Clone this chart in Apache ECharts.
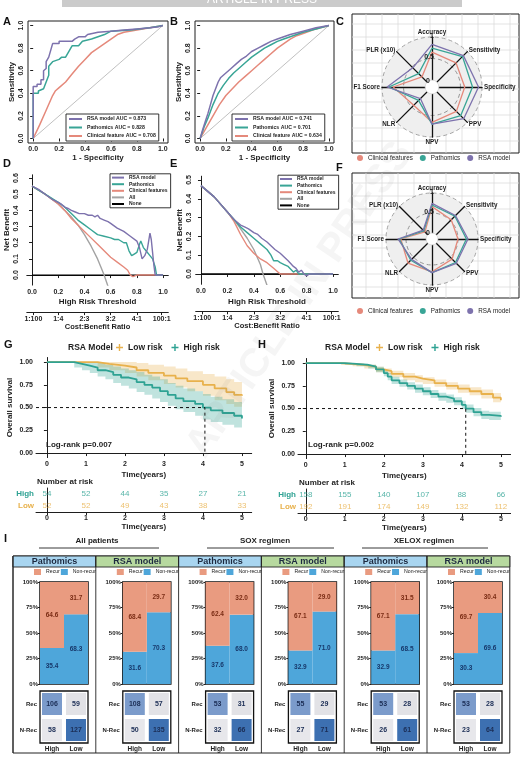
<!DOCTYPE html>
<html><head><meta charset="utf-8">
<script src="https://cdn.jsdelivr.net/npm/echarts@6/dist/echarts.min.js"></script>
<style>html,body{margin:0;padding:0;background:#fff}#c{width:523px;height:757px}</style>
</head><body><div id="c"></div><script>
// ---------------- DATA ----------------
const rocA_rsa=[[0,0],[0,0.46],[0.03,0.46],[0.03,0.48],[0.06,0.48],[0.06,0.52],[0.08,0.52],[0.08,0.6],[0.1,0.62],[0.1,0.68],[0.12,0.72],[0.14,0.8],[0.15,0.84],[0.2,0.84],[0.2,0.86],[0.3,0.86],[0.32,0.88],[0.35,0.9],[0.4,0.9],[0.42,0.92],[0.5,0.94],[0.6,0.95],[0.7,0.96],[0.8,0.97],[0.9,0.98],[0.97,0.99],[1,1]];
const rocA_path=[[0,0],[0,0.4],[0.04,0.4],[0.04,0.42],[0.08,0.44],[0.1,0.5],[0.12,0.56],[0.12,0.64],[0.15,0.68],[0.2,0.7],[0.22,0.72],[0.25,0.72],[0.28,0.78],[0.3,0.82],[0.35,0.82],[0.38,0.86],[0.45,0.88],[0.5,0.9],[0.55,0.92],[0.6,0.95],[0.75,0.96],[0.9,0.98],[1,1]];
const rocA_clin=[[0,0],[0.05,0.12],[0.1,0.25],[0.15,0.38],[0.17,0.42],[0.2,0.45],[0.25,0.5],[0.3,0.57],[0.35,0.64],[0.4,0.7],[0.45,0.76],[0.5,0.8],[0.55,0.84],[0.6,0.88],[0.65,0.92],[0.7,0.94],[0.8,0.96],[0.9,0.98],[1,1]];
const rocB_rsa=[[0,0],[0.02,0.08],[0.04,0.15],[0.06,0.22],[0.08,0.3],[0.1,0.38],[0.12,0.44],[0.14,0.5],[0.16,0.54],[0.2,0.58],[0.24,0.62],[0.28,0.66],[0.32,0.7],[0.36,0.73],[0.4,0.77],[0.45,0.8],[0.5,0.83],[0.55,0.86],[0.6,0.88],[0.65,0.9],[0.7,0.92],[0.8,0.95],[0.9,0.98],[1,1]];
const rocB_path=[[0,0],[0.03,0.1],[0.06,0.18],[0.1,0.3],[0.14,0.4],[0.18,0.47],[0.22,0.53],[0.26,0.58],[0.3,0.62],[0.35,0.67],[0.4,0.72],[0.45,0.76],[0.5,0.8],[0.55,0.83],[0.6,0.86],[0.65,0.88],[0.7,0.9],[0.8,0.94],[0.9,0.97],[1,1]];
const rocB_clin=[[0,0],[0.05,0.1],[0.1,0.2],[0.15,0.3],[0.2,0.38],[0.25,0.44],[0.3,0.5],[0.35,0.55],[0.4,0.6],[0.45,0.65],[0.5,0.7],[0.55,0.75],[0.6,0.8],[0.65,0.84],[0.7,0.88],[0.75,0.91],[0.8,0.93],[0.9,0.97],[1,1]];
const rocNamesA=['RSA model AUC = 0.873','Pathomics AUC = 0.828','Clinical feature AUC = 0.708'];
const rocNamesB=['RSA model AUC = 0.741','Pathomics AUC = 0.701','Clinical feature AUC = 0.634'];
const rocTicks=[0,0.2,0.4,0.6,0.8,1];

const radarMetrics=['Accuracy','PLR (x10)','F1 Score','NLR','NPV','PPV','Specificity','Sensitivity'];
const radarC_clin=[0.65,0.17,0.74,0.44,0.66,0.64,0.6,0.63];
const radarC_path=[0.74,0.28,0.84,0.28,0.7,0.78,0.78,0.84];
const radarC_rsa=[0.83,0.47,0.88,0.22,0.7,0.88,0.92,0.87];
const radarF_clin=[0.66,0.1,0.63,0.7,0.67,0.56,0.5,0.53];
const radarF_path=[0.7,0.14,0.67,0.6,0.69,0.68,0.71,0.66];
const radarF_rsa=[0.74,0.16,0.7,0.57,0.69,0.71,0.75,0.68];
const modelNames=['Clinical features','Pathomics','RSA model'];

const dcaD_rsa=[[0,0.55],[0.05,0.53],[0.1,0.5],[0.15,0.47],[0.2,0.45],[0.22,0.44],[0.25,0.42],[0.28,0.41],[0.3,0.4],[0.33,0.39],[0.36,0.38],[0.4,0.38],[0.43,0.37],[0.46,0.37],[0.48,0.36],[0.5,0.37],[0.52,0.35],[0.55,0.34],[0.58,0.33],[0.6,0.32],[0.65,0.29],[0.7,0.27],[0.75,0.24],[0.8,0.21],[0.82,0.17],[0.84,0.1],[0.86,0.12],[0.88,0.16],[0.9,0.26],[0.91,0.22],[0.92,0.14],[0.93,0.06],[0.94,0],[1,0]];
const dcaD_path=[[0,0.55],[0.1,0.5],[0.2,0.45],[0.25,0.42],[0.3,0.38],[0.35,0.34],[0.4,0.31],[0.45,0.28],[0.5,0.25],[0.55,0.24],[0.6,0.23],[0.63,0.22],[0.66,0.22],[0.7,0.2],[0.72,0.2],[0.74,0.15],[0.76,0.12],[0.78,0.13],[0.8,0.14],[0.82,0.19],[0.83,0.21],[0.85,0.17],[0.87,0.15],[0.9,0.12],[0.92,0.1],[0.94,0.05],[0.95,0],[1,0]];
const dcaD_clin=[[0,0.55],[0.1,0.5],[0.2,0.44],[0.25,0.4],[0.3,0.35],[0.35,0.31],[0.4,0.27],[0.45,0.23],[0.5,0.19],[0.55,0.15],[0.6,0.11],[0.65,0.08],[0.7,0.05],[0.73,0.03],[0.75,0],[0.77,-0.01],[0.8,0],[1,0]];
const dcaD_all=[[0,0.55],[0.1,0.5],[0.2,0.44],[0.25,0.4],[0.3,0.36],[0.35,0.31],[0.4,0.25],[0.45,0.18],[0.5,0.1],[0.53,0.04],[0.55,0],[0.58,-0.07]];
const dcaE_rsa=[[0,0.47],[0.1,0.41],[0.2,0.33],[0.25,0.29],[0.3,0.26],[0.33,0.25],[0.36,0.24],[0.4,0.22],[0.43,0.21],[0.46,0.19],[0.5,0.17],[0.53,0.15],[0.56,0.13],[0.6,0.11],[0.63,0.09],[0.66,0.07],[0.7,0.04],[0.72,0.03],[0.74,0.01],[0.76,0.02],[0.78,0],[0.8,-0.01],[0.82,0],[1,0]];
const dcaE_path=[[0,0.47],[0.1,0.41],[0.2,0.33],[0.25,0.29],[0.3,0.25],[0.35,0.22],[0.4,0.19],[0.45,0.16],[0.5,0.13],[0.53,0.1],[0.55,0.07],[0.58,0.07],[0.6,0.06],[0.63,0.05],[0.66,0.04],[0.7,0.01],[0.72,0.02],[0.74,0],[1,0]];
const dcaE_clin=[[0,0.47],[0.1,0.41],[0.2,0.33],[0.25,0.28],[0.3,0.21],[0.35,0.15],[0.4,0.11],[0.45,0.08],[0.5,0.06],[0.55,0.03],[0.6,0],[1,0]];
const dcaE_all=[[0,0.47],[0.1,0.41],[0.2,0.33],[0.25,0.29],[0.3,0.24],[0.35,0.19],[0.4,0.13],[0.45,0.05],[0.47,0],[0.5,-0.06]];
const dcaNone=[[0,0],[1,0]];
const dcaNames=['RSA model','Pathomics','Clinical features','All','None'];
const thrTicks=[0,0.2,0.4,0.6,0.8,1];
const costTicks=[0.01,0.2,0.4,0.6,0.8,0.99];
const costLabels=['1:100','1:4','2:3','3:2','4:1','100:1'];

const kmG_lowT=[0,1.3,1.6,2.0,2.3,2.6,3.0,3.3,3.6,4.0,4.3,4.6,4.8,5.0];
const kmG_lowS=[1,0.98,0.96,0.94,0.91,0.88,0.85,0.82,0.79,0.75,0.71,0.67,0.64,0.63];
const kmG_lowU=[1,1,1,1,0.99,0.97,0.95,0.93,0.9,0.87,0.84,0.81,0.78,0.77];
const kmG_lowL=[1,0.94,0.91,0.88,0.84,0.8,0.76,0.72,0.68,0.63,0.58,0.54,0.51,0.5];
const kmG_highT=[0,0.7,0.9,1.1,1.3,1.5,1.7,1.9,2.1,2.3,2.5,2.7,2.9,3.1,3.3,3.5,3.8,4.0,4.2,4.5,4.8,5.0];
const kmG_highS=[1,0.98,0.96,0.94,0.91,0.89,0.86,0.83,0.81,0.78,0.75,0.72,0.68,0.64,0.6,0.57,0.54,0.5,0.47,0.44,0.41,0.38];
const kmG_highU=[1,1,1,1,0.99,0.97,0.95,0.93,0.91,0.89,0.86,0.84,0.81,0.77,0.74,0.71,0.68,0.65,0.62,0.59,0.56,0.53];
const kmG_highL=[1,0.94,0.91,0.88,0.84,0.81,0.77,0.74,0.71,0.67,0.64,0.6,0.56,0.52,0.48,0.45,0.41,0.37,0.34,0.31,0.28,0.26];
const kmH_lowT=[0,0.9,1.2,1.5,1.8,2.0,2.2,2.5,2.8,3.0,3.3,3.6,3.9,4.2,4.5,4.8,5.0];
const kmH_lowS=[1,0.99,0.98,0.96,0.93,0.91,0.88,0.85,0.83,0.81,0.78,0.75,0.72,0.69,0.66,0.62,0.59];
const kmH_lowU=[1,1,0.995,0.98,0.96,0.94,0.915,0.89,0.865,0.845,0.82,0.79,0.765,0.735,0.71,0.67,0.64];
const kmH_lowL=[1,0.98,0.965,0.94,0.9,0.88,0.845,0.81,0.79,0.77,0.74,0.71,0.675,0.645,0.61,0.57,0.54];
const kmH_highT=[0,1.0,1.3,1.6,1.8,2.0,2.1,2.2,2.4,2.6,2.8,3.0,3.2,3.4,3.6,3.8,4.0,4.1,4.3,4.5,4.7,5.0];
const kmH_highS=[1,0.99,0.98,0.96,0.93,0.89,0.85,0.81,0.78,0.75,0.72,0.69,0.66,0.63,0.61,0.58,0.54,0.5,0.46,0.43,0.42,0.41];
const kmH_highU=[1,1,0.995,0.98,0.96,0.925,0.89,0.85,0.82,0.79,0.765,0.735,0.705,0.675,0.655,0.625,0.585,0.545,0.505,0.475,0.465,0.455];
const kmH_highL=[1,0.98,0.965,0.94,0.9,0.855,0.81,0.77,0.74,0.71,0.675,0.645,0.615,0.585,0.565,0.535,0.495,0.455,0.415,0.385,0.375,0.365];
const medianG=4.05, medianH=4.1;
const riskTimes=[0,1,2,3,4,5];
const riskG_high=[54,52,44,35,27,21];
const riskG_low=[52,52,49,43,38,33];
const riskH_high=[158,155,140,107,88,66];
const riskH_low=[192,191,174,149,132,112];
const survTicks=[0,0.25,0.5,0.75,1];

const iModels=['Pathomics','RSA model','Pathomics','RSA model','Pathomics','RSA model'];
const iGroups=['All patients','SOX regimen','XELOX regimen'];
const recurHigh=[64.6,68.4,62.4,67.1,67.1,69.7];
const nonRecurHigh=[35.4,31.6,37.6,32.9,32.9,30.3];
const recurLow=[31.7,29.7,32.0,29.0,31.5,30.4];
const nonRecurLow=[68.3,70.3,68.0,71.0,68.5,69.6];
const cmRecHigh=[106,108,53,55,53,53];
const cmRecLow=[59,57,31,29,28,28];
const cmNRecHigh=[58,50,32,27,26,23];
const cmNRecLow=[127,135,66,71,61,64];

// ---------------- STYLE ----------------
const FONT='"Liberation Sans", Arial, sans-serif';
const C_RSA='#7d72ad', C_PATH='#39a596', C_CLIN='#e5897b', C_ALL='#a3a3a3', C_NONE='#000000';
const C_LOW='#e8b14c', C_HIGH='#2ea293';
const C_REC='#e99b80', C_NON='#4ea6da';
const INK='#1e1e1e';
const lab=(s,extra)=>Object.assign({fontSize:s,fontWeight:'bold',color:INK,fontFamily:FONT},extra||{});

const grids=[], xAxes=[], yAxes=[], series=[], legends=[], graphics=[];
function addGrid(g){g.outerBoundsMode='none';g.containLabel=false;grids.push(g);return grids.length-1;}

function rAxis(gi,min,max,ticks,fmt,name,gap,isY,extra){
  return Object.assign({type:'value',gridIndex:gi,min:min,max:max,
    axisLine:{show:false,lineStyle:{color:INK,width:1}},splitLine:{show:false},
    axisTick:{show:true,customValues:ticks,length:3,lineStyle:{color:INK}},
    axisLabel:{customValues:ticks,formatter:fmt,margin:3,rotate:isY?90:0,fontSize:7,fontWeight:'bold',color:INK},
    name:name,nameLocation:'middle',nameGap:gap,nameTextStyle:lab(8)},extra||{});
}

// ---------- A & B (ROC) ----------
[[28,140,rocA_rsa,rocA_path,rocA_clin,rocNamesA,66],[195,139,rocB_rsa,rocB_path,rocB_clin,rocNamesB,232]].forEach((r,i)=>{
  const gi=addGrid({left:r[0],top:21,width:r[1],height:122,show:true,borderColor:INK,borderWidth:1});
  xAxes.push(rAxis(gi,-0.04,1.04,rocTicks,v=>v.toFixed(1),'1 - Specificity',11,false));
  yAxes.push(rAxis(gi,-0.04,1.04,rocTicks,v=>v.toFixed(1),'Sensitivity',12,true));
  const xi=xAxes.length-1, yi=yAxes.length-1;
  series.push({type:'line',xAxisIndex:xi,yAxisIndex:yi,data:[[0,0],[1,1]],symbol:'none',silent:true,lineStyle:{color:'#b0b0b0',width:0.8},z:1});
  [[r[2],C_RSA],[r[3],C_PATH],[r[4],C_CLIN]].forEach((s,k)=>{
    series.push({type:'line',name:r[5][k],xAxisIndex:xi,yAxisIndex:yi,data:s[0],symbol:'none',color:s[1],lineStyle:{color:s[1],width:1.5},itemStyle:{color:s[1]},z:3-k+2});
  });
  legends.push({left:r[6],top:114,orient:'vertical',data:r[5],icon:'rect',itemWidth:13,itemHeight:2,itemGap:2.5,
    textStyle:lab(5.2,{lineHeight:6}),borderColor:INK,borderWidth:0.9,padding:[2,3,2,3],backgroundColor:'#fff',selectedMode:false});
});

// ---------- D & E (DCA) ----------
[[26.8,141.5,174.8,110.3,-0.062,0.62,[0,0.1,0.2,0.3,0.4,0.5,0.6],[dcaD_rsa,dcaD_path,dcaD_clin,dcaD_all],4,110],
 [195.7,142.6,176.2,108.1,-0.055,0.52,[0,0.1,0.2,0.3,0.4,0.5],[dcaE_rsa,dcaE_path,dcaE_clin,dcaE_all],0,278]].forEach(r=>{
  const gi=addGrid({left:r[0],top:r[2],width:r[1],height:r[3]});
  xAxes.push(rAxis(gi,-0.04,1.04,thrTicks,v=>v.toFixed(1),'High Risk Threshold',13,false,{axisLine:{show:true,lineStyle:{color:INK}}}));
  const xi=xAxes.length-1;
  xAxes.push(rAxis(gi,-0.04,1.04,costTicks,v=>{let b=0;costTicks.forEach((c,j)=>{if(Math.abs(c-v)<Math.abs(costTicks[b]-v))b=j;});return costLabels[b];},'Cost:Benefit Ratio',8,false,{position:'bottom',offset:27,axisLine:{show:true,lineStyle:{color:INK}},nameTextStyle:lab(7.5)}));
  yAxes.push(rAxis(gi,r[4],r[5],r[6],v=>v.toFixed(1),'Net Benefit',12,true,{offset:r[8],axisLine:{show:true,lineStyle:{color:INK}}}));
  const yi=yAxes.length-1;
  const cols=[C_RSA,C_PATH,C_CLIN,C_ALL];
  series.push({type:'line',name:'None',xAxisIndex:xi,yAxisIndex:yi,data:dcaNone,symbol:'none',color:C_NONE,lineStyle:{color:C_NONE,width:1.2},itemStyle:{color:C_NONE},z:2});
  [3,2,1,0].forEach(k=>{
    series.push({type:'line',name:dcaNames[k],xAxisIndex:xi,yAxisIndex:yi,data:r[7][k],symbol:'none',color:cols[k],lineStyle:{color:cols[k],width:1.4},itemStyle:{color:cols[k]},z:3+(3-k)});
  });
  legends.push({left:r[9],top:r[2]-1,orient:'vertical',data:dcaNames,icon:'rect',itemWidth:12,itemHeight:2,itemGap:1,
    textStyle:lab(5,{lineHeight:5.6}),borderColor:INK,borderWidth:0.9,padding:[1,3,1,2],backgroundColor:'#fff',selectedMode:false});
});

// ---------- C & F (radar) ----------
const radars=[
  {center:[432,87],radius:50,min:-0.16},
  {center:[432,239],radius:46,min:-0.15}
];
radars.forEach((rd,ri)=>{
  const cx=rd.center[0], cy=rd.center[1], R=rd.radius;
  const bx=352, by=ri?173:14, bw=167, bh=ri?125:139;
  graphics.push({type:'rect',z:-20,shape:{x:bx,y:by,width:bw,height:bh},style:{fill:'#fff',stroke:INK,lineWidth:1}});
  for(let gx=bx+14; gx<bx+bw; gx+=16) graphics.push({type:'line',z:-19,shape:{x1:gx,y1:by,x2:gx,y2:by+bh},style:{stroke:'#dcdcdc',lineWidth:0.8}});
  for(let gy=by+10; gy<by+bh; gy+=13) graphics.push({type:'line',z:-19,shape:{x1:bx,y1:gy,x2:bx+bw,y2:gy},style:{stroke:'#dcdcdc',lineWidth:0.8}});
  const rr=v=>R*(v-rd.min)/(1-rd.min);
  graphics.push({type:'circle',z:-18,shape:{cx:cx,cy:cy,r:rr(1)},style:{fill:'#efefef',stroke:'#9a9a9a',lineWidth:0.9,lineDash:[4,3]}});
  graphics.push({type:'circle',z:-17,shape:{cx:cx,cy:cy,r:rr(0.5)},style:{fill:'none',stroke:'#8a8a8a',lineWidth:0.9,lineDash:[4,3]}});
  graphics.push({type:'text',z:60,x:cx,y:cy-rr(1)-1,style:{text:'1',font:'bold 7px '+FONT,fill:INK,align:'center',verticalAlign:'middle'}});
  graphics.push({type:'text',z:60,x:cx-3,y:cy-rr(0.5)-1,style:{text:'0.5',font:'bold 7px '+FONT,fill:INK,align:'center',verticalAlign:'middle'}});
  graphics.push({type:'circle',z:55,shape:{cx:cx,cy:cy,r:rr(0)},style:{fill:'#fff',stroke:'#ccc',lineWidth:0.6}});
  graphics.push({type:'text',z:60,x:cx-4,y:cy-6,style:{text:'0',font:'bold 7px '+FONT,fill:INK,align:'center',verticalAlign:'middle'}});
});
const radarOpts=radars.map(rd=>({center:rd.center,radius:rd.radius,startAngle:90,shape:'circle',splitNumber:1,
  indicator:radarMetrics.map(n=>({name:n,min:rd.min,max:1})),
  axisName:{color:INK,fontSize:6.3,fontWeight:'bold',fontFamily:FONT},nameGap:2,
  axisLine:{lineStyle:{color:'#111',width:1.3}},splitLine:{show:false},splitArea:{show:false},axisTick:{show:false},axisLabel:{show:false}}));
[[radarC_clin,radarC_path,radarC_rsa],[radarF_clin,radarF_path,radarF_rsa]].forEach((set,ri)=>{
  const cols=[C_CLIN,C_PATH,C_RSA];
  series.push({type:'radar',radarIndex:ri,symbol:'none',z:4,
    data:set.map((v,k)=>({name:modelNames[k],value:v,lineStyle:{color:cols[k],width:1.3},itemStyle:{color:cols[k]}}))});
  legends.push({left:357,top:ri?308:155,orient:'horizontal',data:modelNames,icon:'circle',itemWidth:6,itemHeight:6,itemGap:7,
    textStyle:lab(6.3,{fontWeight:'normal',color:'#222'}),padding:0,selectedMode:false});
});

// ---------- G & H (KM) ----------
function bandSeries(xi,yi,T,U,L,color){
  return {type:'custom',xAxisIndex:xi,yAxisIndex:yi,silent:true,z:1,data:[[T[0],U[0]]],encode:{x:0,y:1},
    renderItem:function(params,api){
      const pts=[];
      for(let i=0;i<T.length;i++){ if(i>0) pts.push(api.coord([T[i],U[i-1]])); pts.push(api.coord([T[i],U[i]])); }
      for(let i=T.length-1;i>=0;i--){ pts.push(api.coord([T[i],L[i]])); if(i>0) pts.push(api.coord([T[i],L[i-1]])); }
      return {type:'polygon',shape:{points:pts},style:{fill:color}};
    }};
}
const plusIcon='path://M4,0L6,0L6,4L10,4L10,6L6,6L6,10L4,10L4,6L0,6L0,4L4,4Z';
[[36,215.7,357.5,-0.28,488,kmG_lowT,kmG_lowS,kmG_lowU,kmG_lowL,kmG_highT,kmG_highS,kmG_highU,kmG_highL,medianG,riskG_high,riskG_low,'Log-rank p=0.007',68,116],
 [298,212.6,358.5,-0.2,489,kmH_lowT,kmH_lowS,kmH_lowU,kmH_lowL,kmH_highT,kmH_highS,kmH_highU,kmH_highL,medianH,riskH_high,riskH_low,'Log-rank p=0.002',325,376]].forEach(r=>{
  const gi=addGrid({left:r[0],top:r[2],width:r[1],height:100.1});
  const axL={show:true,lineStyle:{color:INK,width:1}};
  xAxes.push(rAxis(gi,r[3],5.25,riskTimes,v=>String(v),'Time(years)',13,false,{axisLine:axL}));
  yAxes.push(rAxis(gi,-0.05,1.05,survTicks,v=>v.toFixed(2),'Overall survival',22,false,{axisLine:axL}));
  const xi=xAxes.length-1, yi=yAxes.length-1;
  series.push(bandSeries(xi,yi,r[5],r[7],r[8],'rgba(232,177,76,0.3)'));
  series.push(bandSeries(xi,yi,r[9],r[11],r[12],'rgba(46,162,147,0.3)'));
  series.push({type:'line',name:'Low risk',xAxisIndex:xi,yAxisIndex:yi,step:'end',symbol:'none',data:r[5].map((t,i)=>[t,r[6][i]]),color:C_LOW,lineStyle:{color:C_LOW,width:1.8},itemStyle:{color:C_LOW},z:4});
  series.push({type:'line',name:'High risk',xAxisIndex:xi,yAxisIndex:yi,step:'end',symbol:'none',data:r[9].map((t,i)=>[t,r[10][i]]),color:C_HIGH,lineStyle:{color:C_HIGH,width:1.8},itemStyle:{color:C_HIGH},z:5});
  series.push({type:'line',xAxisIndex:xi,yAxisIndex:yi,symbol:'none',silent:true,data:[[r[3],0.5],[r[13],0.5],[r[13],0]],lineStyle:{color:'#111',width:1,type:[3,3]},z:6});
  legends.push({left:r[18],top:343,data:['Low risk','High risk'],icon:plusIcon,itemWidth:7,itemHeight:8,itemGap:9,textStyle:lab(8.5),padding:0,selectedMode:false});
  graphics.push({type:'text',z:60,x:r[17],y:348,style:{text:'RSA Model',font:'bold 8.5px '+FONT,fill:INK,align:'left',verticalAlign:'middle'}});
  graphics.push({type:'text',z:60,x:r[0]+10,y:445,style:{text:r[16],font:'bold 8px '+FONT,fill:INK,align:'left',verticalAlign:'middle'}});
  graphics.push({type:'text',z:60,x:r[0]+1,y:r[4]-6,style:{text:'Number at risk',font:'bold 8px '+FONT,fill:INK,align:'left',verticalAlign:'middle'}});
  const tg=addGrid({left:r[0],top:r[4],width:r[1],height:24});
  xAxes.push(rAxis(tg,r[3],5.25,riskTimes,v=>String(v),'Time(years)',10,false,{axisLine:axL}));
  yAxes.push({type:'category',gridIndex:tg,data:['Low','High'],axisLine:axL,axisTick:{show:false},
    axisLabel:{interval:0,margin:2,formatter:v=>'{'+v+'|'+v+'}',rich:{High:lab(8,{color:C_HIGH}),Low:lab(8,{color:C_LOW})}}});
  const txi=xAxes.length-1, tyi=yAxes.length-1;
  series.push({type:'scatter',xAxisIndex:txi,yAxisIndex:tyi,symbolSize:0,silent:true,data:riskTimes.map((t,i)=>[t,'High',r[14][i]]),
    label:{show:true,position:'inside',formatter:p=>String(p.value[2]),fontSize:8,color:C_HIGH}});
  series.push({type:'scatter',xAxisIndex:txi,yAxisIndex:tyi,symbolSize:0,silent:true,data:riskTimes.map((t,i)=>[t,'Low',r[15][i]]),
    label:{show:true,position:'inside',formatter:p=>String(p.value[2]),fontSize:8,color:C_LOW}});
});

// ---------- I (bars + confusion matrices) ----------
const colW=82.8, colX0=13;
const cellColors=['#7b9bcb','#e2e2e6','#e7e7eb','#3d70b1'];
iModels.forEach((m,k)=>{
  const x0=colX0+k*colW;
  const bg=addGrid({left:x0+27,top:582,width:48,height:102,show:true,borderColor:'#111',borderWidth:1.5});
  xAxes.push({type:'category',gridIndex:bg,data:['High','Low'],axisLine:{show:false},axisTick:{show:false},axisLabel:{show:false}});
  yAxes.push({type:'value',gridIndex:bg,min:0,max:100,interval:25,splitLine:{show:false},axisLine:{show:false},
    axisTick:{show:true,length:2,lineStyle:{color:INK}},axisLabel:{formatter:'{value}%',margin:2,fontSize:6,fontWeight:'bold',color:INK}});
  const xi=xAxes.length-1, yi=yAxes.length-1;
  series.push({type:'bar',name:'Non-recur',xAxisIndex:xi,yAxisIndex:yi,stack:'s'+k,data:[nonRecurHigh[k],nonRecurLow[k]],barWidth:'100%',barCategoryGap:'0%',
    color:C_NON,itemStyle:{color:C_NON},label:{show:true,position:'inside',formatter:p=>p.value.toFixed(1),fontSize:6.5,fontWeight:'bold',color:'#17386b'}});
  series.push({type:'bar',name:'Recur',xAxisIndex:xi,yAxisIndex:yi,stack:'s'+k,data:[recurHigh[k],recurLow[k]],barWidth:'100%',barCategoryGap:'0%',
    color:C_REC,itemStyle:{color:C_REC},label:{show:true,position:'inside',formatter:p=>p.value.toFixed(1),fontSize:6.5,fontWeight:'bold',color:'#7a2c14'}});
  legends.push({left:x0+21,top:569,data:['Recur','Non-recur'],icon:'rect',itemWidth:7,itemHeight:6,itemGap:1,textStyle:lab(5.2,{fontWeight:'normal',color:'#222'}),padding:0,selectedMode:false});
  const mg=addGrid({left:x0+27,top:691,width:48,height:52,show:true,borderColor:'#111',borderWidth:1.3});
  xAxes.push({type:'category',gridIndex:mg,data:['High','Low'],axisLine:{show:false},axisTick:{show:false},axisLabel:{interval:0,margin:3,fontSize:6.5,fontWeight:'bold',color:INK}});
  yAxes.push({type:'category',gridIndex:mg,data:['N-Rec','Rec'],axisLine:{show:false},axisTick:{show:false},axisLabel:{interval:0,margin:3,fontSize:6,fontWeight:'bold',color:INK}});
  const mxi=xAxes.length-1, myi=yAxes.length-1;
  series.push({type:'custom',xAxisIndex:mxi,yAxisIndex:myi,silent:true,encode:{x:0,y:1},
    data:[[0,1,cmRecHigh[k],0],[1,1,cmRecLow[k],1],[0,0,cmNRecHigh[k],2],[1,0,cmNRecLow[k],3]],
    renderItem:function(params,api){
      const c=api.coord([api.value(0),api.value(1)]), s=api.size([1,1]);
      return {type:'group',children:[
        {type:'rect',shape:{x:c[0]-s[0]/2+2,y:c[1]-s[1]/2+2,width:s[0]-4,height:s[1]-4},style:{fill:cellColors[api.value(3)]}},
        {type:'text',style:{text:String(api.value(2)),x:c[0],y:c[1],align:'center',verticalAlign:'middle',font:'bold 7px '+FONT,fill:'#1b2d55'}}
      ]};
    }});
  graphics.push({type:'rect',z:30,shape:{x:x0,y:556,width:colW,height:11},style:{fill:m==='RSA model'?'#b7d99f':'#a8d5f0',stroke:'#222',lineWidth:0.9}});
  graphics.push({type:'text',z:31,x:x0+colW/2,y:562,style:{text:m,font:'bold 9px '+FONT,fill:'#1d2a40',align:'center',verticalAlign:'middle'}});
  graphics.push({type:'line',z:30,shape:{x1:x0,y1:556,x2:x0,y2:753},style:{stroke:'#222',lineWidth:0.9}});
});
graphics.push({type:'rect',z:29,shape:{x:13,y:556,width:colW*6,height:197},style:{fill:'none',stroke:'#222',lineWidth:1}});
[[97,39,159],[265,207,334],[424,362,488]].forEach((g,i)=>{
  graphics.push({type:'text',z:31,x:g[0],y:541,style:{text:iGroups[i],font:'bold 8px '+FONT,fill:INK,align:'center',verticalAlign:'middle'}});
  graphics.push({type:'line',z:31,shape:{x1:g[1],y1:548,x2:g[2],y2:548},style:{stroke:'#222',lineWidth:0.9}});
});

// ---------- decorations ----------
graphics.push({type:'rect',z:40,shape:{x:62,y:-2,width:400,height:9},style:{fill:'#cbcbcb'}});
graphics.push({type:'text',z:41,x:262,y:0,style:{text:'ARTICLE IN PRESS',font:'12px '+FONT,fill:'#ffffff',align:'center',verticalAlign:'middle'}});
graphics.push({type:'text',z:45,x:300,y:300,rotation:Math.PI*0.31,style:{text:'ARTICLE IN PRESS',font:'bold 40px '+FONT,fill:'rgba(120,120,120,0.07)',align:'center',verticalAlign:'middle'}});
[['A',3,22],['B',170,22],['C',336,22],['D',3,164],['E',170,164],['F',336,168],['G',4,345],['H',258,345],['I',4,539]].forEach(l=>{
  graphics.push({type:'text',z:60,x:l[1],y:l[2],style:{text:l[0],font:'bold 11px '+FONT,fill:'#111',align:'left',verticalAlign:'middle'}});
});

const chart=echarts.init(document.getElementById('c'),null,{renderer:'canvas',width:523,height:757});
chart.setOption({animation:false,backgroundColor:'#fff',textStyle:{fontFamily:FONT},
  grid:grids,xAxis:xAxes,yAxis:yAxes,radar:radarOpts,legend:legends,series:series,graphic:{elements:graphics}});
</script></body></html>
